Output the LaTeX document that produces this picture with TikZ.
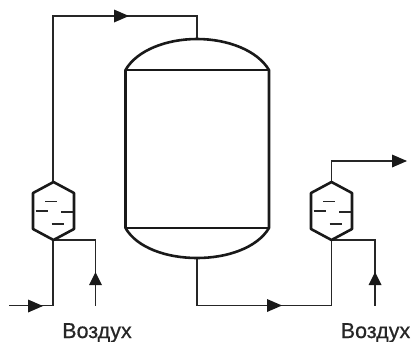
\documentclass[tikz,border=0pt]{standalone}
\usepackage{fontspec}
\setmainfont[FakeBold=0.6]{Liberation Sans}
\usetikzlibrary{arrows.meta,decorations.markings}
\tikzset{
  x=1pt,y=-1pt,
  wall/.style={draw=black!90,line width=2.6pt,line join=round},
  thin wall/.style={draw=black!90,line width=1.9pt},
  pipe/.style={draw=black!85,line width=1.4pt,line join=miter},
  level/.style={draw=black!85,line width=1.2pt},
  flowtip/.style={fill=black!90,draw=none},
  lbl/.style={inner sep=0pt,anchor=base,font=\fontsize{21.5}{23}\selectfont,text=black!85},
}
\newcommand{\heatx}[2]{%
  \draw[wall] (#1,#2-29) -- (#1+20.5,#2-18) -- (#1+20.5,#2+18) -- (#1,#2+29) -- (#1-20.5,#2+18) -- (#1-20.5,#2-18) -- cycle;
  \draw[level] (#1-8.5,#2-9.5) -- (#1+3,#2-9.5);
  \draw[level] (#1-18,#2) -- (#1-6,#2);
  \draw[level] (#1+7.5,#2+1) -- (#1+19,#2+1);
  \draw[level] (#1-2,#2+13) -- (#1+10,#2+13);
}
\newcommand{\tipright}[2]{\path[flowtip] (#1,#2) -- (#1-15,#2-6.5) -- (#1-15,#2+6.5) -- cycle;}
\newcommand{\tipup}[2]{\path[flowtip] (#1,#2) -- (#1-6.5,#2+13) -- (#1+6.5,#2+13) -- cycle;}
\begin{document}
\begin{tikzpicture}
\useasboundingbox (0,0) rectangle (412,341);
\coordinate (lt) at (53,182);
\coordinate (lb) at (53,240);
\coordinate (rt) at (331.5,182);
\coordinate (rb) at (331.5,240);
\coordinate (vt) at (197,39);
\coordinate (vb) at (197,258);
% pipes
\draw[pipe] (lt) -- (53,16) -- (197,16) -- (vt);
\draw[pipe] (9,305.5) -- (53,305.5) -- (lb);
\draw[pipe] (lb) -- (95.5,240) -- (95.5,306);
\draw[pipe] (vb) -- (197,305.5) -- (331.5,305.5) -- (rb);
\draw[pipe] (rb) -- (375,240) -- (375,306);
\draw[pipe] (rt) -- (331.5,161) -- (395,161);
% arrowheads
\tipright{129}{16}
\tipright{43}{306}
\tipright{282}{305.5}
\tipright{407}{161}
\tipup{95.5}{272}
\tipup{375}{272}
% vessel
\draw[wall] (125.5,228) -- (125.5,70) .. controls (137,50) and (167,39) .. (vt) .. controls (227,39) and (257,50) .. (269,70) -- (269,228) .. controls (257,248) and (227,258) .. (vb) .. controls (167,258) and (137,248) .. cycle;
\draw[thin wall] (125.5,70) -- (269,70);
\draw[thin wall] (125.5,228) -- (269,228);
% heat exchangers
\heatx{53.5}{211}
\heatx{331.5}{211}
% labels
\node[lbl] (a1) at (97,338) {Воздух};
\node[lbl] (a2) at (375.5,338) {Воздух};
\end{tikzpicture}
\end{document}
